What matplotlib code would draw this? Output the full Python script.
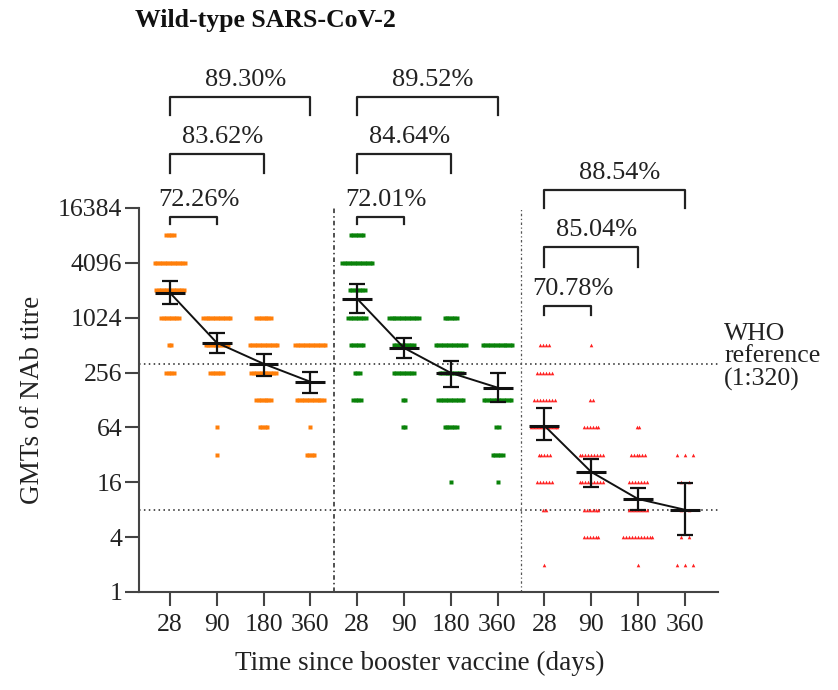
import numpy as np
import matplotlib.pyplot as plt
from matplotlib.ticker import NullLocator

plt.rcParams['font.family'] = 'Liberation Serif'

# ---------------------------------------------------------------
# Data
days = ['28', '90', '180', '360']
titre_levels = [2, 4, 8, 16, 32, 64, 128, 256, 512, 1024, 2048, 4096, 8192]

# participants at each titre level (columns follow titre_levels), one row per time point
orange_counts = [
    [0, 0, 0, 0, 0, 0, 0, 4, 2, 8, 12, 13, 4],
    [0, 0, 0, 0, 1, 1, 0, 6, 10, 12, 0, 0, 0],
    [0, 0, 0, 0, 0, 4, 7, 11, 12, 7, 0, 0, 0],
    [0, 0, 0, 0, 4, 1, 12, 0, 13, 0, 0, 0, 0],
]
green_counts = [
    [0, 0, 0, 0, 0, 0, 4, 3, 6, 8, 7, 13, 6],
    [0, 0, 0, 0, 0, 2, 2, 9, 9, 13, 0, 0, 0],
    [0, 0, 0, 1, 0, 6, 11, 10, 13, 6, 0, 0, 0],
    [0, 0, 0, 1, 5, 2, 12, 0, 13, 0, 0, 0, 0],
]
red_counts = [
    [1, 0, 2, 6, 5, 10, 8, 6, 4, 0, 0, 0, 0],
    [0, 6, 6, 9, 9, 6, 2, 0, 1, 0, 0, 0, 0],
    [1, 11, 7, 7, 6, 2, 0, 0, 0, 0, 0, 0, 0],
    [3, 2, 2, 2, 3, 0, 0, 0, 0, 0, 0, 0, 0],
]

# geometric mean titres with 95% CI
orange_gmt = [1925, 545, 320, 203]
orange_lo = [1460, 422, 236, 153]
orange_hi = [2610, 700, 413, 261]
green_gmt = [1656, 478, 254, 175]
green_lo = [1160, 372, 179, 122]
green_hi = [2420, 617, 345, 254]
red_gmt = [67, 20.8, 10.5, 8.0]
red_lo = [47, 14.2, 7.9, 4.2]
red_hi = [105, 28.9, 13.9, 15.8]

# decline from day 28 to day 90 / 180 / 360
orange_decline = [72.26, 83.62, 89.30]
green_decline = [72.01, 84.64, 89.52]
red_decline = [70.78, 85.04, 88.54]

who_reference = 320
lower_limit = 8

# ---------------------------------------------------------------
groups = [
    (orange_counts, orange_gmt, orange_lo, orange_hi, orange_decline, '#ff7f0a', 's', 2.3, [0.053] * 4),
    (green_counts, green_gmt, green_lo, green_hi, green_decline, '#0a820a', 's', 2.3, [0.053] * 4),
    (red_counts, red_gmt, red_lo, red_hi, red_decline, '#ff2020', '^', 2.6, [0.062, 0.062, 0.062, 0.17]),
]
# bracket heights (log2) and leg length for each group
bracket_tops = [[13.67, 15.97, 18.05], [13.67, 15.97, 18.05], [10.43, 12.58, 14.66]]
bracket_legs = [[0.26, 0.69, 0.66], [0.26, 0.69, 0.66], [0.33, 0.73, 0.66]]

fig = plt.figure(figsize=(8.38, 6.90), dpi=100)
ax = fig.add_axes([139 / 838, 1 - 592 / 690, 579 / 838, 384 / 690])

for g, (counts, gmt, lo, hi, decline, color, marker, ms, spacing) in enumerate(groups):
    pos = np.arange(4) + 1 + 4 * g
    # individual titres spread sideways in rows
    for i in range(4):
        for level, n in zip(titre_levels, counts[i]):
            if n == 0:
                continue
            xs = pos[i] + (np.arange(n) - (n - 1) / 2) * spacing[i]
            ax.plot(xs, [level] * n, ls='none', marker=marker, ms=ms, color=color,
                    mec='none', zorder=2)
    gmt = np.array(gmt)
    yerr = [gmt - np.array(lo), np.array(hi) - gmt]
    ax.errorbar(pos, gmt, yerr=yerr, fmt='none', ecolor='#111111', elinewidth=1.6,
                capsize=6, capthick=1.6, zorder=4)
    ax.hlines(gmt, pos - 0.32, pos + 0.32, color='#111111', lw=2.2, zorder=4)
    ax.plot(pos, gmt, color='#111111', lw=1.4, zorder=4)

    # decline brackets above the plot
    for k in range(3):
        top = 2 ** bracket_tops[g][k]
        leg = 2 ** (bracket_tops[g][k] - bracket_legs[g][k])
        x0, x1 = pos[0], pos[k + 1]
        ax.plot([x0, x0, x1, x1], [leg, top, top, leg], color='#222222', lw=1.6,
                clip_on=False)
        ax.annotate(f'{decline[k]:.2f}%', xy=((x0 + x1) / 2, top), xytext=(4, 12),
                    textcoords='offset points', ha='center', va='center',
                    fontsize=19, color='#222222', annotation_clip=False)

# reference lines
ax.axhline(who_reference, color='#222222', lw=1.1, ls=(0, (1, 2.2)), zorder=1)
ax.axhline(lower_limit, color='#222222', lw=1.1, ls=(0, (1, 2.2)), zorder=1)
ax.axvline(4.5, color='#222222', lw=1.1, ls=(0, (3, 2, 1, 2)), zorder=1)
ax.axvline(8.5, color='#555555', lw=0.9, ls=(0, (2, 2, 1, 2)), zorder=1)

ax.set_yscale('log', base=2)
ax.set_ylim(1, 16384)
ax.set_xlim(0.34, 12.71)
yticks = [1, 4, 16, 64, 256, 1024, 4096, 16384]
ax.set_yticks(yticks)
ax.set_yticklabels([str(t) for t in yticks])
ax.yaxis.set_minor_locator(NullLocator())
ax.set_xticks(np.arange(1, 13))
ax.set_xticklabels(days * 3)

for side in ['top', 'right']:
    ax.spines[side].set_visible(False)
for side in ['left', 'bottom']:
    ax.spines[side].set_color('#444444')
    ax.spines[side].set_linewidth(1.5)
ax.tick_params(axis='both', length=10, width=1.5, color='#444444', labelsize=18.5,
               labelcolor='#222222')
ax.tick_params(axis='y', pad=2)
ax.tick_params(axis='x', pad=6)

ax.set_ylabel('GMTs of NAb titre', fontsize=19.5, color='#222222')
ax.yaxis.set_label_coords(-0.162, 0.5)
ax.set_xlabel('Time since booster vaccine (days)', fontsize=19.5, color='#222222')
ax.xaxis.set_label_coords(0.485, -0.152)

fig.text(724 / 838, 1 - 357 / 690, 'WHO\nreference\n(1:320)', ha='left', va='center',
         fontsize=18.5, linespacing=1.0, color='#222222')
fig.text(135 / 838, 1 - 20 / 690, 'Wild-type SARS-CoV-2', ha='left', va='center',
         fontsize=18.5, fontweight='bold', color='#111111')

plt.savefig('out.png', dpi=100)
